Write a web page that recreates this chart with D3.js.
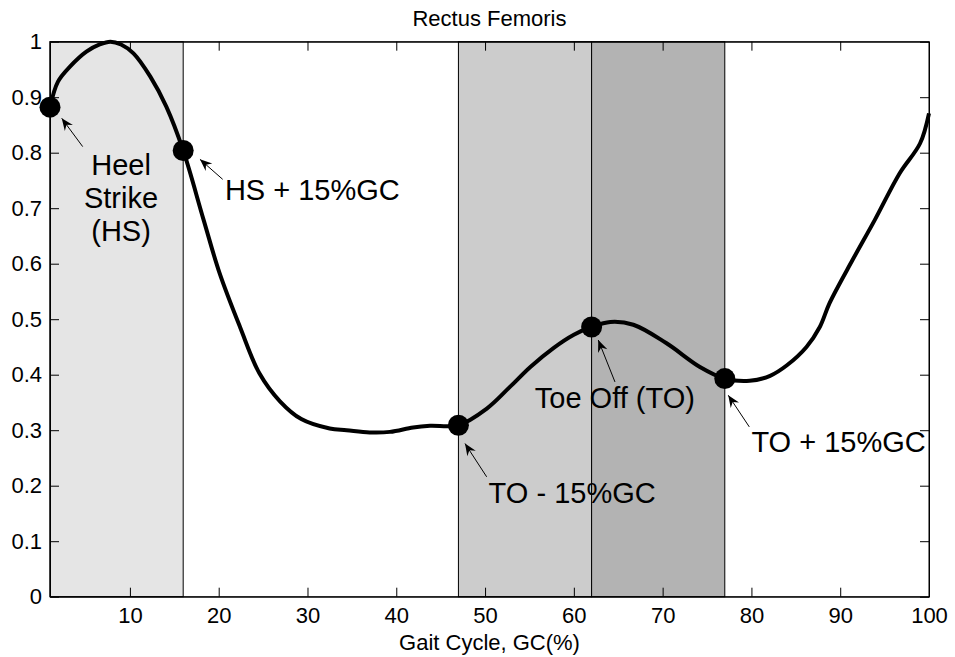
<!DOCTYPE html>
<html>
<head>
<meta charset="utf-8">
<script src="https://cdn.jsdelivr.net/npm/d3@7"></script>
<style>
  body { margin: 0; background: #fff; }
  svg text { font-family: "Liberation Sans", Arial, Helvetica, sans-serif; fill: #000; }
</style>
</head>
<body>
<div id="chart"></div>
<script>
// gait cycle (%) and normalised activation
const gc = [1, 1.9, 3.25, 5.1, 6.6, 7.8, 9, 10.4, 12.3, 14.1, 16, 18.3, 20.1, 22.4, 24.6, 26.9,
  29.3, 32.5, 34.4, 37, 39.3, 41.9, 43.8, 47, 50.2, 52.8, 55.1, 57.7, 60, 62, 64.1, 66.7, 70.4,
  74.2, 77, 79.8, 82.1, 84, 86.2, 87.7, 88.8, 91.4, 93.9, 96.7, 99, 100];
const activation = [0.882, 0.928, 0.955, 0.982, 0.995, 1.0, 0.995, 0.979, 0.937, 0.883, 0.804,
  0.679, 0.583, 0.486, 0.402, 0.352, 0.320, 0.303, 0.300, 0.296, 0.297, 0.305, 0.308, 0.309,
  0.339, 0.378, 0.414, 0.448, 0.472, 0.486, 0.495, 0.490, 0.457, 0.414, 0.393, 0.389, 0.398,
  0.417, 0.450, 0.486, 0.529, 0.607, 0.679, 0.763, 0.817, 0.871];

// shaded phases
const bandStart = [1, 47, 62];
const bandEnd = [16, 62, 77];
const bandFill = ['#e5e5e5', '#cccccc', '#b3b3b3'];

// event markers
const eventX = [1, 16, 47, 62, 77];
const eventY = [0.882, 0.804, 0.309, 0.486, 0.393];

// annotation labels, anchor and arrow in data units
const labelText = [['Heel', 'Strike', '(HS)'], ['HS + 15%GC'], ['TO - 15%GC'], ['Toe Off (TO)'], ['TO + 15%GC']];
const labelX = [9.0, 20.7, 50.4, 55.6, 80.0];
const labelY = [0.76, 0.715, 0.169, 0.34, 0.261];
const labelAnchor = ['middle', 'start', 'start', 'start', 'start'];
const arrowFrom = [[4.68, 0.811], [20.45, 0.752], [50.18, 0.216], [64.63, 0.387], [79.76, 0.306]];
const arrowTo = [[2.32, 0.862], [17.89, 0.788], [47.74, 0.276], [62.75, 0.4625], [77.39, 0.363]];

const xTicks = [10, 20, 30, 40, 50, 60, 70, 80, 90, 100];
const yTicks = [0, 0.1, 0.2, 0.3, 0.4, 0.5, 0.6, 0.7, 0.8, 0.9, 1];

const width = 955, height = 657;
const margin = { top: 41.7, right: 26, bottom: 60.3, left: 50 };

const x = d3.scaleLinear().domain([1, 100]).range([margin.left, width - margin.right]);
const y = d3.scaleLinear().domain([0, 1]).range([height - margin.bottom, margin.top]);

const svg = d3.select('#chart').append('svg')
  .attr('width', width)
  .attr('height', height);

svg.append('defs').append('marker')
  .attr('id', 'head')
  .attr('viewBox', '-14 -7 16 14')
  .attr('refX', 0).attr('refY', 0)
  .attr('markerUnits', 'userSpaceOnUse')
  .attr('markerWidth', 16).attr('markerHeight', 14)
  .attr('orient', 'auto')
  .append('path')
  .attr('d', 'M0,0L-12,-5L-8,0L-12,5Z')
  .attr('fill', '#000');

// bands
svg.append('g').selectAll('rect')
  .data(bandStart)
  .join('rect')
  .attr('x', (d, i) => x(d))
  .attr('y', y(1))
  .attr('width', (d, i) => x(bandEnd[i]) - x(d))
  .attr('height', y(0) - y(1))
  .attr('fill', (d, i) => bandFill[i])
  .attr('stroke', '#000')
  .attr('stroke-width', 1);

// axes, ticks pointing inward like matlab
const fontSize = 22;
const xAxis = svg.append('g')
  .attr('transform', `translate(0,${y(0)})`)
  .call(d3.axisBottom(x).tickValues(xTicks).tickSizeInner(-9).tickSizeOuter(0).tickPadding(11).tickFormat(d3.format('d')));
const yAxis = svg.append('g')
  .attr('transform', `translate(${x(1)},0)`)
  .call(d3.axisLeft(y).tickValues(yTicks).tickSizeInner(-9).tickSizeOuter(0).tickPadding(8).tickFormat(d3.format('~g')));
svg.append('g')
  .attr('transform', `translate(0,${y(1)})`)
  .call(d3.axisTop(x).tickValues(xTicks).tickSizeInner(-9).tickSizeOuter(0).tickFormat(''));
svg.append('g')
  .attr('transform', `translate(${x(100)},0)`)
  .call(d3.axisRight(y).tickValues(yTicks).tickSizeInner(-9).tickSizeOuter(0).tickFormat(''));

svg.selectAll('.domain, .tick line').attr('stroke', '#000');
svg.selectAll('.tick text').attr('font-size', fontSize);
svg.selectAll('g text').attr('font-family', null);

svg.append('rect')
  .attr('x', x(1)).attr('y', y(1))
  .attr('width', x(100) - x(1)).attr('height', y(0) - y(1))
  .attr('fill', 'none').attr('stroke', '#000');

// curve
const pts = gc.map((d, i) => [d, activation[i]]);
svg.append('path')
  .datum(pts)
  .attr('fill', 'none')
  .attr('stroke', '#000')
  .attr('stroke-width', 4)
  .attr('stroke-linejoin', 'round')
  .attr('d', d3.line().x(d => x(d[0])).y(d => y(d[1])).curve(d3.curveCatmullRom));

// event dots
svg.append('g').selectAll('circle')
  .data(eventX)
  .join('circle')
  .attr('cx', d => x(d))
  .attr('cy', (d, i) => y(eventY[i]))
  .attr('r', 10.5)
  .attr('fill', '#000');

// arrows
svg.append('g').selectAll('line')
  .data(arrowFrom)
  .join('line')
  .attr('x1', d => x(d[0])).attr('y1', d => y(d[1]))
  .attr('x2', (d, i) => x(arrowTo[i][0])).attr('y2', (d, i) => y(arrowTo[i][1]))
  .attr('stroke', '#000')
  .attr('stroke-width', 1)
  .attr('marker-end', 'url(#head)');

// labels
svg.append('g').selectAll('text')
  .data(labelText)
  .join('text')
  .attr('x', (d, i) => x(labelX[i]))
  .attr('y', (d, i) => y(labelY[i]))
  .attr('text-anchor', (d, i) => labelAnchor[i])
  .attr('font-size', 29)
  .each(function (d, i) {
    d3.select(this).selectAll('tspan')
      .data(d)
      .join('tspan')
      .attr('x', x(labelX[i]))
      .attr('dy', (t, j) => j === 0 ? 0 : 33)
      .text(t => t);
  });

// title and axis label
svg.append('text')
  .attr('x', (x(1) + x(100)) / 2)
  .attr('y', 26)
  .attr('text-anchor', 'middle')
  .attr('font-size', fontSize)
  .text('Rectus Femoris');

svg.append('text')
  .attr('x', (x(1) + x(100)) / 2)
  .attr('y', 650)
  .attr('text-anchor', 'middle')
  .attr('font-size', fontSize)
  .text('Gait Cycle, GC(%)');
</script>
</body>
</html>
